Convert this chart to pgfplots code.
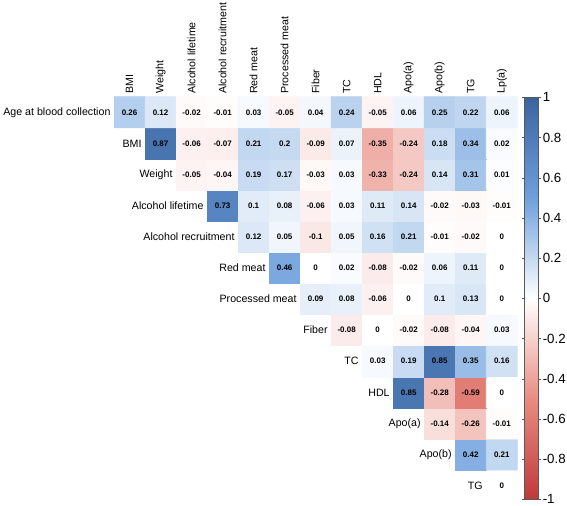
\documentclass[border=0pt]{standalone}
\usepackage{fontspec}
\setmainfont{Liberation Sans}
\usepackage{pgfplots}
\pgfplotsset{compat=1.18}
\begin{document}
\begin{tikzpicture}
\begin{axis}[
  scale only axis, width=303pt, height=304pt,
  xmin=-0.5, xmax=12.5, ymin=-0.5, ymax=12.5,
  axis line style={draw=none},
  major tick length=0pt,
  xtick={0,...,12},
  xticklabels={BMI,Weight,Alcohol lifetime,Alcohol recruitment,Red meat,Processed meat,Fiber,TC,HDL,Apo(a),Apo(b),TG,Lp(a)},
  xticklabel pos=upper,
  xticklabel style={rotate=90, anchor=west, font=\fontsize{8}{9}\selectfont, inner sep=2pt},
  ytick=\empty,
  colormap={corr}{rgb255(0cm)=(192,57,57); rgb255(1cm)=(232,140,130); rgb255(2cm)=(255,255,255); rgb255(3cm)=(110,160,220); rgb255(4cm)=(58,100,160)},
  point meta min=-1, point meta max=1,
  clip=false,
  colorbar,
  colorbar style={
    at={(parent axis.north east)}, anchor=north west, xshift=-3.1pt, yshift=-0.5pt,
    width=10.5pt, height=302pt,
    ytick={-1,-0.8,-0.6,-0.4,-0.2,0,0.2,0.4,0.6,0.8,1},
    yticklabel style={font=\fontsize{10}{11}\selectfont, inner sep=1pt, /pgf/number format/assume math mode=true},
    axis line style={draw=black!65, line width=0.8pt},
    major tick length=2pt, tick align=outside,
    ytick style={draw=black!65},
  },
]
\addplot[matrix plot*, mesh/cols=13, point meta=explicit] table[meta=v] {
x y v
0 0 0
1 0 0
2 0 0
3 0 0
4 0 0
5 0 0
6 0 0
7 0 0
8 0 0
9 0 0
10 0 0
11 0 0
12 0 0
0 1 0
1 1 0
2 1 0
3 1 0
4 1 0
5 1 0
6 1 0
7 1 0
8 1 0
9 1 0
10 1 0
11 1 0.42
12 1 0.21
0 2 0
1 2 0
2 2 0
3 2 0
4 2 0
5 2 0
6 2 0
7 2 0
8 2 0
9 2 0
10 2 -0.14
11 2 -0.26
12 2 -0.01
0 3 0
1 3 0
2 3 0
3 3 0
4 3 0
5 3 0
6 3 0
7 3 0
8 3 0
9 3 0.85
10 3 -0.28
11 3 -0.59
12 3 0
0 4 0
1 4 0
2 4 0
3 4 0
4 4 0
5 4 0
6 4 0
7 4 0
8 4 0.03
9 4 0.19
10 4 0.85
11 4 0.35
12 4 0.16
0 5 0
1 5 0
2 5 0
3 5 0
4 5 0
5 5 0
6 5 0
7 5 -0.08
8 5 0
9 5 -0.02
10 5 -0.08
11 5 -0.04
12 5 0.03
0 6 0
1 6 0
2 6 0
3 6 0
4 6 0
5 6 0
6 6 0.09
7 6 0.08
8 6 -0.06
9 6 0
10 6 0.1
11 6 0.13
12 6 0
0 7 0
1 7 0
2 7 0
3 7 0
4 7 0
5 7 0.46
6 7 0
7 7 0.02
8 7 -0.08
9 7 -0.02
10 7 0.06
11 7 0.11
12 7 0
0 8 0
1 8 0
2 8 0
3 8 0
4 8 0.12
5 8 0.05
6 8 -0.1
7 8 0.05
8 8 0.16
9 8 0.21
10 8 -0.01
11 8 -0.02
12 8 0
0 9 0
1 9 0
2 9 0
3 9 0.73
4 9 0.1
5 9 0.08
6 9 -0.06
7 9 0.03
8 9 0.11
9 9 0.14
10 9 -0.02
11 9 -0.03
12 9 -0.01
0 10 0
1 10 0
2 10 -0.05
3 10 -0.04
4 10 0.19
5 10 0.17
6 10 -0.03
7 10 0.03
8 10 -0.33
9 10 -0.24
10 10 0.14
11 10 0.31
12 10 0.01
0 11 0
1 11 0.87
2 11 -0.06
3 11 -0.07
4 11 0.21
5 11 0.2
6 11 -0.09
7 11 0.07
8 11 -0.35
9 11 -0.24
10 11 0.18
11 11 0.34
12 11 0.02
0 12 0.26
1 12 0.12
2 12 -0.02
3 12 -0.01
4 12 0.03
5 12 -0.05
6 12 0.04
7 12 0.24
8 12 -0.05
9 12 0.06
10 12 0.25
11 12 0.22
12 12 0.06
};
\addplot[only marks, mark=none, point meta=explicit symbolic,
  nodes near coords,
  nodes near coords align={anchor=center},
  every node near coord/.append style={font=\bfseries\fontsize{6}{7}\selectfont, text=black, anchor=center}]
table[meta=lab] {
x y lab
0 12 0.26
1 12 0.12
2 12 -0.02
3 12 -0.01
4 12 0.03
5 12 -0.05
6 12 0.04
7 12 0.24
8 12 -0.05
9 12 0.06
10 12 0.25
11 12 0.22
12 12 0.06
1 11 0.87
2 11 -0.06
3 11 -0.07
4 11 0.21
5 11 0.2
6 11 -0.09
7 11 0.07
8 11 -0.35
9 11 -0.24
10 11 0.18
11 11 0.34
12 11 0.02
2 10 -0.05
3 10 -0.04
4 10 0.19
5 10 0.17
6 10 -0.03
7 10 0.03
8 10 -0.33
9 10 -0.24
10 10 0.14
11 10 0.31
12 10 0.01
3 9 0.73
4 9 0.1
5 9 0.08
6 9 -0.06
7 9 0.03
8 9 0.11
9 9 0.14
10 9 -0.02
11 9 -0.03
12 9 -0.01
4 8 0.12
5 8 0.05
6 8 -0.1
7 8 0.05
8 8 0.16
9 8 0.21
10 8 -0.01
11 8 -0.02
12 8 0
5 7 0.46
6 7 0
7 7 0.02
8 7 -0.08
9 7 -0.02
10 7 0.06
11 7 0.11
12 7 0
6 6 0.09
7 6 0.08
8 6 -0.06
9 6 0
10 6 0.1
11 6 0.13
12 6 0
7 5 -0.08
8 5 0
9 5 -0.02
10 5 -0.08
11 5 -0.04
12 5 0.03
8 4 0.03
9 4 0.19
10 4 0.85
11 4 0.35
12 4 0.16
9 3 0.85
10 3 -0.28
11 3 -0.59
12 3 0
10 2 -0.14
11 2 -0.26
12 2 -0.01
11 1 0.42
12 1 0.21
12 0 0
};
\addplot[only marks, mark=none, point meta=explicit symbolic,
  nodes near coords,
  nodes near coords align={anchor=east},
  every node near coord/.append style={font=\fontsize{8}{9}\selectfont, text=black, inner sep=2.5pt, anchor=east}]
table[col sep=comma, row sep=\\, meta=lab] {
x,y,lab\\
-0.5,12,Age at blood collection\\
0.5,11,BMI\\
1.5,10,Weight\\
2.5,9,Alcohol lifetime\\
3.5,8,Alcohol recruitment\\
4.5,7,Red meat\\
5.5,6,Processed meat\\
6.5,5,Fiber\\
7.5,4,TC\\
8.5,3,HDL\\
9.5,2,Apo(a)\\
10.5,1,Apo(b)\\
11.5,0,TG\\
};
\end{axis}
\end{tikzpicture}
\end{document}
